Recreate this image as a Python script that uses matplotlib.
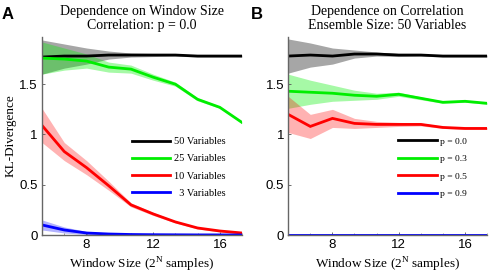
import numpy as np
import matplotlib
matplotlib.use("Agg")
import matplotlib.pyplot as plt

# window size (log2 of number of samples)
n_win = [5.37, 6.7, 8.03, 9.35, 10.68, 12.0, 13.33, 14.65, 15.98, 17.3]

# panel A: correlation p = 0.0, different ensemble sizes
a_labels = ["50 Variables", "25 Variables", "10 Variables", "  3 Variables"]
a_mean = [
    [1.77, 1.78, 1.78, 1.79, 1.79, 1.79, 1.79, 1.78, 1.78, 1.78],
    [1.76, 1.75, 1.73, 1.67, 1.65, 1.57, 1.50, 1.35, 1.27, 1.12],
    [1.09, 0.83, 0.67, 0.49, 0.30, 0.21, 0.13, 0.07, 0.04, 0.02],
    [0.10, 0.05, 0.02, 0.01, 0.005, 0.003, 0.002, 0.001, 0.001, 0.0],
]
a_std = [
    [0.17, 0.12, 0.08, 0.04, 0.02, 0.015, 0.01, 0.01, 0.01, 0.01],
    [0.16, 0.11, 0.07, 0.05, 0.04, 0.03, 0.02, 0.015, 0.01, 0.01],
    [0.17, 0.09, 0.07, 0.045, 0.02, 0.015, 0.01, 0.01, 0.01, 0.01],
    [0.05, 0.03, 0.015, 0.01, 0.005, 0.003, 0.002, 0.001, 0.001, 0.0],
]

# panel B: 50 variables, different correlations
b_labels = ["p = 0.0", "p = 0.3", "p = 0.5", "p = 0.9"]
b_mean = [
    [1.78, 1.79, 1.78, 1.80, 1.80, 1.79, 1.79, 1.78, 1.78, 1.78],
    [1.43, 1.42, 1.41, 1.39, 1.38, 1.40, 1.36, 1.32, 1.33, 1.31],
    [1.20, 1.08, 1.16, 1.11, 1.10, 1.10, 1.10, 1.07, 1.06, 1.06],
    [0.005, 0.005, 0.005, 0.005, 0.005, 0.005, 0.005, 0.005, 0.005, 0.005],
]
b_std = [
    [0.17, 0.12, 0.08, 0.04, 0.02, 0.015, 0.01, 0.01, 0.01, 0.01],
    [0.17, 0.12, 0.08, 0.05, 0.03, 0.02, 0.015, 0.01, 0.01, 0.01],
    [0.18, 0.12, 0.09, 0.05, 0.03, 0.02, 0.015, 0.01, 0.01, 0.01],
    [0.002, 0.002, 0.002, 0.002, 0.002, 0.002, 0.002, 0.002, 0.002, 0.002],
]

colors = ["black", "#00ee00", "#ff0000", "#0000ff"]
band_alpha = [0.35, 0.35, 0.3, 0.3]

serif = "Liberation Serif"
sans = "Liberation Sans"

fig = plt.figure(figsize=(4.9, 2.77), dpi=100)
ax_a = fig.add_axes([0.0857, 0.1516, 0.408, 0.715])
ax_b = fig.add_axes([0.588, 0.1516, 0.406, 0.715])


def draw_panel(ax, means, stds, labels, title, leg_size, leg_x, leg_sp, hlen):
    x = np.array(n_win)
    for m, s, c, al in zip(means, stds, colors, band_alpha):
        m = np.array(m)
        s = np.array(s)
        ax.fill_between(x, m - s, m + s, color=c, alpha=al, linewidth=0)
    lines = []
    for m, c in zip(means, colors):
        ln, = ax.plot(x, m, color=c, linewidth=2.0, solid_joinstyle="miter")
        lines.append(ln)
    ax.set_xlim(n_win[0], n_win[-1])
    ax.set_ylim(0, 1.97)
    ax.set_xticks([8, 12, 16])
    ax.set_xticks(n_win, minor=True)
    ax.set_yticks([0, 0.5, 1, 1.5])
    ax.set_yticklabels(["0", "0.5", "1", "1.5"])
    for lab in ax.get_xticklabels() + ax.get_yticklabels():
        lab.set_fontfamily(sans)
        lab.set_fontsize(9.5)
    ax.tick_params(direction="in", length=2, width=0.6, colors="#555555",
                   labelcolor="black", pad=3)
    ax.tick_params(which="minor", direction="in", length=1.5, width=0.5,
                   colors="#777777")
    for sp in ["top", "right"]:
        ax.spines[sp].set_visible(False)
    for sp in ["left", "bottom"]:
        ax.spines[sp].set_color("#666666")
        ax.spines[sp].set_linewidth(1.0)
    ax.set_title(title, fontfamily=serif, fontsize=10, linespacing=1.1, pad=6)
    ax.set_xlabel("Window Size (2$^\\mathregular{N}$ samples)",
                  fontfamily=serif, fontsize=9.5, labelpad=3)
    ax.legend(lines, labels, loc="upper left", bbox_to_anchor=(leg_x, 0.495),
              frameon=False, borderpad=0, borderaxespad=0,
              handlelength=hlen, handletextpad=0.3,
              labelspacing=leg_sp, prop={"family": serif, "size": leg_size})


draw_panel(ax_a, a_mean, a_std, a_labels,
           "Dependence on Window Size\nCorrelation: p = 0.0",
           7.5, 0.45, 0.76, 3.7)
draw_panel(ax_b, b_mean, b_std, b_labels,
           "Dependence on Correlation\nEnsemble Size: 50 Variables",
           6.8, 0.55, 0.95, 4.2)

ax_a.set_ylabel("KL-Divergence", fontfamily=serif, fontsize=9.5, labelpad=2)

fig.text(0.004, 0.975, "A", fontfamily=sans, fontweight="bold", fontsize=12,
         va="top", ha="left")
fig.text(0.512, 0.975, "B", fontfamily=sans, fontweight="bold", fontsize=12,
         va="top", ha="left")

fig.savefig("out.png", dpi=100)
